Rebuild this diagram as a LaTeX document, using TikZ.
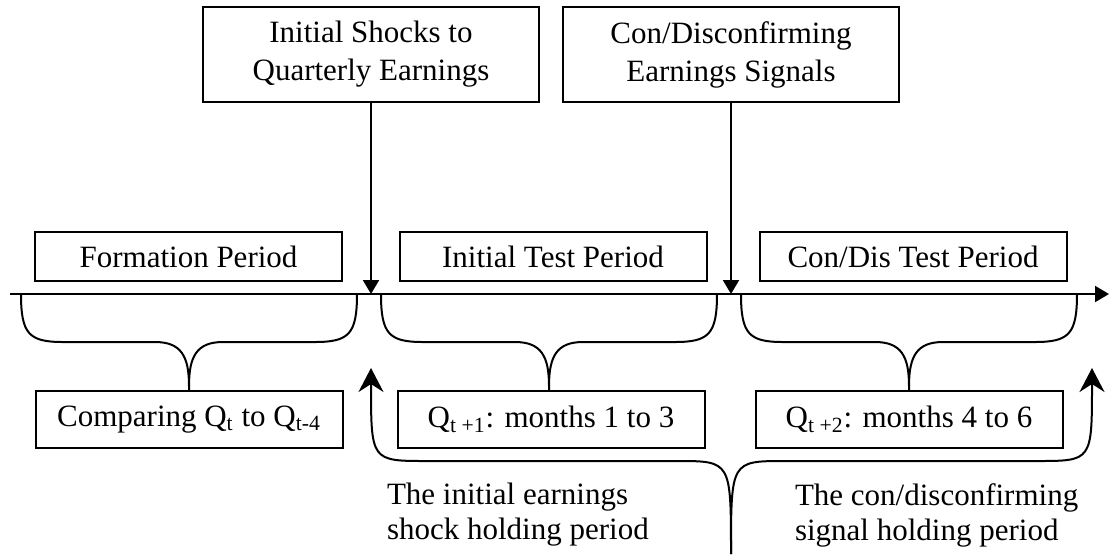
\documentclass[tikz,border=0pt]{standalone}
\usepackage{fontspec}
\setmainfont{Liberation Serif}
\usetikzlibrary{arrows.meta}

\tikzset{
  box/.style={draw, line width=1pt, inner sep=0pt, align=center},
  tri/.style={-{Triangle[width=8pt,length=7pt]}},
  hold/.style={-{Stealth[length=12pt,width=12.5pt,inset=4pt]}},
}

\begin{document}
\begin{tikzpicture}[x=0.5pt, y=-0.5pt, line width=1pt, font=\fontsize{15.5}{19}\selectfont]
  \useasboundingbox (0,0) rectangle (1109,554);

  \coordinate (ax0) at (10,294);
  \coordinate (ax1) at (1109,294);
  \draw[tri] (ax0) -- (ax1);

  \node[box, minimum width=168pt, minimum height=47.5pt] (shock) at (371,54.5) {Initial Shocks to\\Quarterly Earnings};
  \node[box, minimum width=168pt, minimum height=47.5pt] (signal) at (731,54.5) {Con/Disconfirming\\Earnings Signals};
  \draw[tri] (shock.south) -- (shock.south |- ax0);
  \draw[tri] (signal.south) -- (signal.south |- ax0);

  \foreach \n/\x/\t in {form/188.5/Formation Period, init/553/Initial Test Period, cond/913/{Con/Dis Test Period}} {
    \node[box, minimum width=153.5pt, minimum height=24.5pt] (\n) at (\x,256.5) {\t};
  }

  \node[box, minimum width=153.5pt, minimum height=28.5pt] (qa) at (189,419.5) {Comparing Q\textsubscript{t} to Q\textsubscript{t-4}};
  \node[box, minimum width=153.5pt, minimum height=28.5pt] (qb) at (551,419.5) {Q\textsubscript{t +1}: months 1 to 3};
  \node[box, minimum width=153.5pt, minimum height=28.5pt] (qc) at (909,419.5) {Q\textsubscript{t +2}: months 4 to 6};

  \foreach \n/\c in {qa/189, qb/549, qc/909} {
    \draw ({\c-168},294) .. controls ({\c-168},334) and ({\c-160},342) .. ({\c-126},342) -- ({\c-34},342) .. controls ({\c-8},342) and (\c,356) .. (\c,386) -- (\c,391);
    \draw ({\c+168},294) .. controls ({\c+168},334) and ({\c+160},342) .. ({\c+126},342) -- ({\c+34},342) .. controls ({\c+8},342) and (\c,356) .. (\c,386);
  }

  \coordinate (cusp) at (731,554);
  \coordinate (tipl) at (371,368);
  \coordinate (tipr) at (1092,368);
  \draw[hold] (cusp) .. controls (731,461) .. (677,461) -- (427,461) .. controls (371,461) .. (tipl);
  \draw[hold] (cusp) .. controls (731,461) .. (785,461) -- (1037,461) .. controls (1092,461) .. (tipr);

  \node[anchor=west, align=left, inner sep=0pt, font=\fontsize{15.5}{17.5}\selectfont] (holda) at (386,515) {The initial earnings\\shock holding period};
  \node[anchor=west, align=left, inner sep=0pt, font=\fontsize{15.5}{17.5}\selectfont] (holdb) at (794,515) {The con/disconfirming\\signal holding period};
\end{tikzpicture}
\end{document}
